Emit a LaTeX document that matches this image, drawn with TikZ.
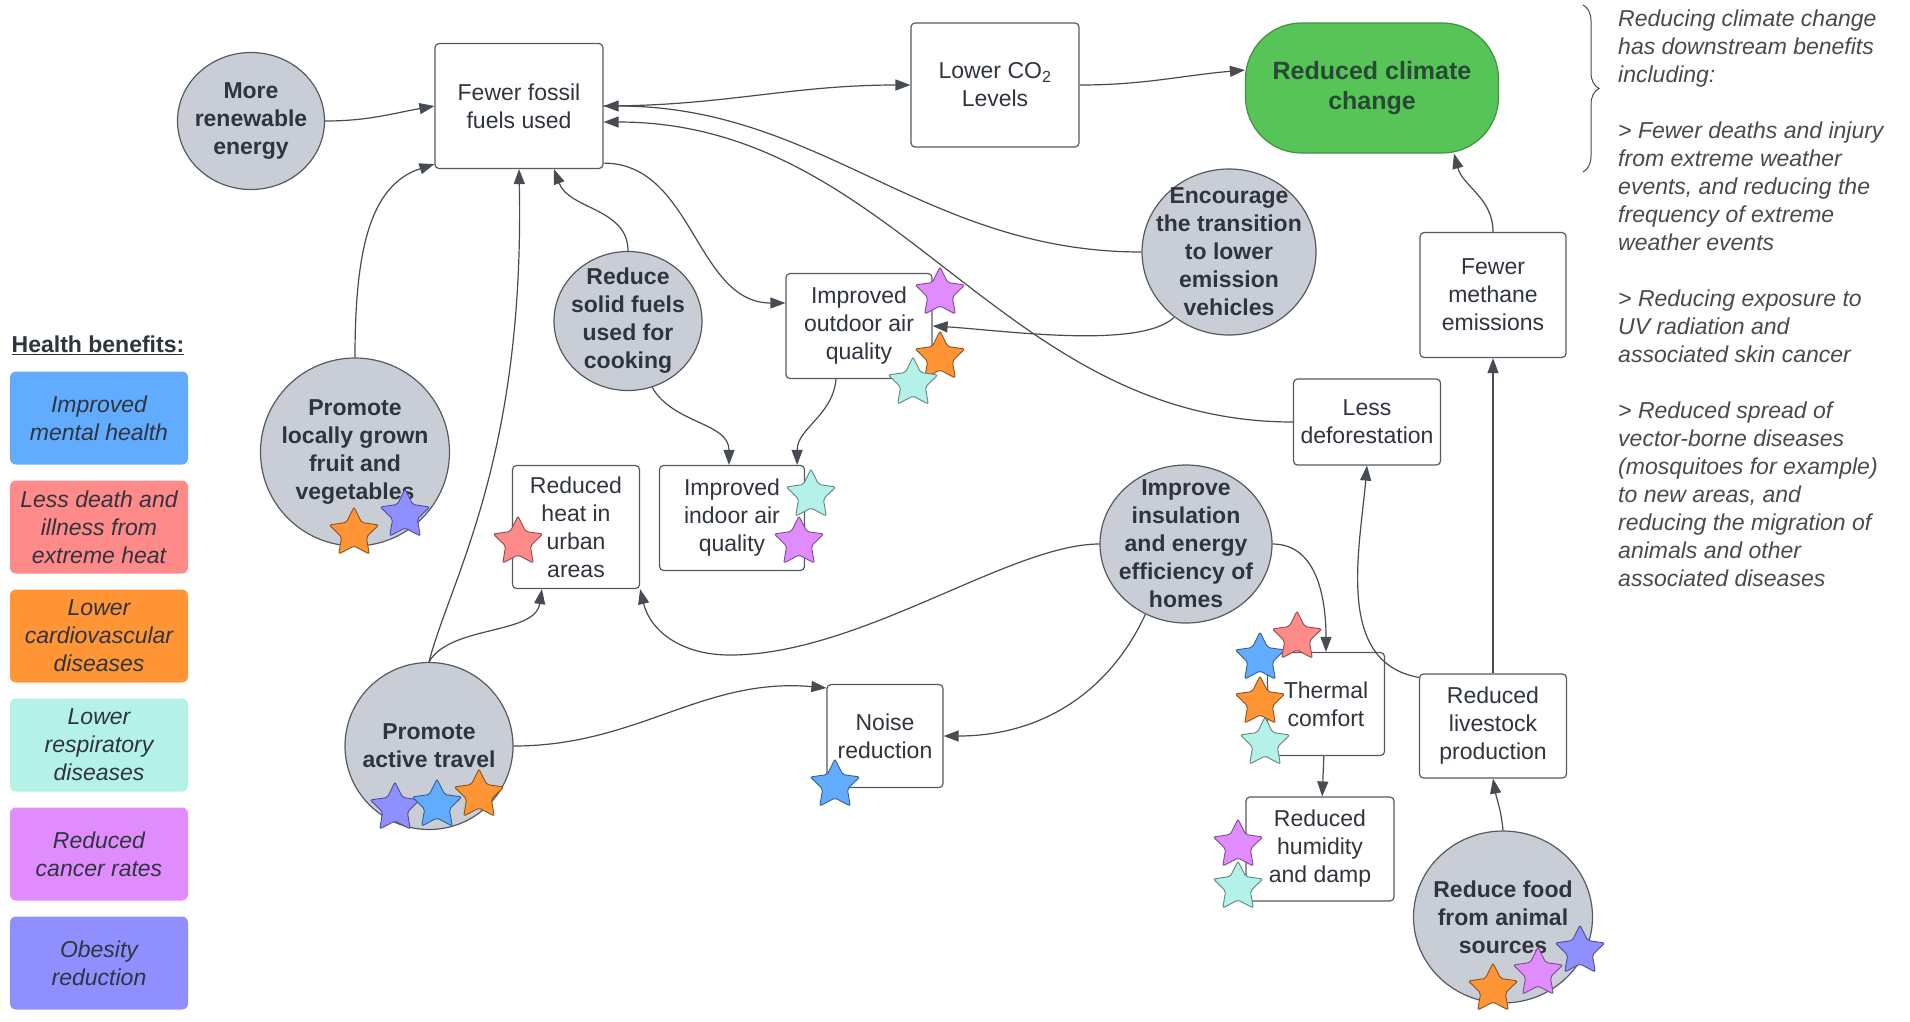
\documentclass[tikz,border=0pt]{standalone}
\usepackage{fontspec}
\setmainfont{Liberation Sans}
\usepackage{tikz}
\usetikzlibrary{shapes.geometric,arrows.meta,decorations.pathreplacing}

\definecolor{circfill}{HTML}{C9CED6}
\definecolor{edgecol}{HTML}{555A62}
\definecolor{linkcol}{HTML}{474B52}
\definecolor{textcol}{HTML}{2F343D}
\definecolor{climgreen}{HTML}{57C457}
\definecolor{mental}{HTML}{62ACFF}
\definecolor{heatred}{HTML}{FF8A8A}
\definecolor{cardio}{HTML}{FF9535}
\definecolor{resp}{HTML}{B3F1E9}
\definecolor{cancer}{HTML}{E08CFF}
\definecolor{obesity}{HTML}{8F8FFF}
\definecolor{notecol}{HTML}{4A4A4A}

\newcommand{\mainsize}{\fontsize{23}{28}\selectfont}

\tikzset{
  action node/.style={ellipse,draw=edgecol,line width=1.2pt,fill=circfill,inner sep=-30pt,
    align=center,text=textcol,font=\mainsize\bfseries},
  outcome node/.style={rectangle,rounded corners=4pt,draw=edgecol,line width=1.2pt,fill=white,
    inner sep=0pt,align=center,text=textcol,font=\mainsize},
  benefit node/.style={rectangle,rounded corners=6pt,fill=#1,minimum width=178pt,minimum height=93pt,
    inner sep=0pt,align=center,text=textcol,font=\mainsize\itshape},
  health star/.style={star,star points=5,star point ratio=2,minimum size=52pt,inner sep=0pt,
    fill=#1,draw=#1!55!black,line width=0.9pt,rounded corners=2pt},
  link/.style={->,color=linkcol,line width=1.2pt}
}

\begin{document}
\begin{tikzpicture}[x=1pt,y=1pt,>={Triangle[length=15pt,width=11pt]}]

\fill[white] (0,0) rectangle (1910,-1021);
\useasboundingbox (0,0) rectangle (1910,-1021);

\node[font=\mainsize\bfseries,text=textcol] (legend title) at (98,-345) {\underline{Health benefits:}};
\foreach \txt/\col [count=\i] in {{Improved\\mental health}/mental,{Less death and\\illness from\\extreme heat}/heatred,
    {Lower\\cardiovascular\\diseases}/cardio,{Lower\\respiratory\\diseases}/resp,
    {Reduced\\cancer rates}/cancer,{Obesity\\reduction}/obesity}
  \node[benefit node=\col] (benefit\i) at (99,{-418-109*(\i-1)}) {\txt};

\node[action node,minimum width=147pt,minimum height=137pt] (renew) at (251,-121) {More\\renewable\\energy};
\node[outcome node,minimum width=168pt,minimum height=125pt] (fossil) at (519,-106) {Fewer fossil\\fuels used};
\node[outcome node,minimum width=168pt,minimum height=124pt] (co2) at (995,-85) {Lower CO\textsubscript{2}\\Levels};
\node[outcome node,fill=climgreen,draw=climgreen!75!black,rounded corners=56pt,text=textcol!90!green,
  font=\fontsize{25}{30}\selectfont\bfseries,minimum width=253pt,minimum height=130pt] (climate) at (1372,-88) {Reduced climate\\change};
\node[action node,minimum width=174pt,minimum height=166pt] (encourage) at (1229,-252) {Encourage\\the transition\\to lower\\emission\\vehicles};
\node[action node,minimum width=148pt,minimum height=139pt] (solid) at (628,-321) {Reduce\\solid fuels\\used for\\cooking};
\node[outcome node,minimum width=146pt,minimum height=105pt] (outdoor) at (859,-326) {Improved\\outdoor air\\quality};
\node[action node,minimum width=189pt,minimum height=188pt] (local) at (355,-452) {Promote\\locally grown\\fruit and\\vegetables};
\node[outcome node,minimum width=127pt,minimum height=123pt] (heat) at (576,-527) {Reduced\\heat in\\urban\\areas};
\node[outcome node,minimum width=145pt,minimum height=105pt] (indoor) at (732,-518) {Improved\\indoor air\\quality};
\node[outcome node,minimum width=147pt,minimum height=86pt] (defor) at (1367,-422) {Less\\deforestation};
\node[outcome node,minimum width=146pt,minimum height=125pt] (methane) at (1493,-295) {Fewer\\methane\\emissions};
\node[action node,minimum width=172pt,minimum height=158pt] (insul) at (1186,-544) {Improve\\insulation\\and energy\\efficiency of\\homes};
\node[action node,minimum width=168pt,minimum height=167pt] (active) at (429,-746) {Promote\\active travel};
\node[outcome node,minimum width=116pt,minimum height=103pt] (noise) at (885,-736) {Noise\\reduction};
\node[outcome node,minimum width=117pt,minimum height=103pt] (thermal) at (1326,-704) {Thermal\\comfort};
\node[outcome node,minimum width=148pt,minimum height=104pt] (humid) at (1320,-849) {Reduced\\humidity\\and damp};
\node[outcome node,minimum width=147pt,minimum height=104pt] (livestock) at (1493,-726) {Reduced\\livestock\\production};
\node[action node,minimum width=179pt,minimum height=172pt] (food) at (1503,-917) {Reduce food\\from animal\\sources};

\path[link]
  (renew.east) edge[out=0,in=190] (fossil.west)
  (fossil.east) edge[out=0,in=180] (co2.west)
  (co2.east) edge[out=0,in=185] ([yshift=18pt]climate.west)
  (encourage.west) edge[out=180,in=0] (fossil.east)
  (defor.west) edge[out=180,in=0] ([yshift=-16pt]fossil.east)
  ([yshift=6pt]fossil.south east) edge[out=0,in=180] ([yshift=23pt]outdoor.west)
  (solid.north) edge[out=90,in=-70] ([xshift=35pt]fossil.south)
  (solid.-70) edge[out=-60,in=90] ([xshift=-3pt]indoor.north)
  ([xshift=-23pt]outdoor.south) edge[out=-95,in=90] ([xshift=-8pt]indoor.north east)
  (insul.-120) edge[out=-115,in=0] (noise.east)
  (insul.east) edge[out=0,in=90] (thermal.north)
  (thermal) edge (humid)
  (food.north) edge[out=95,in=-80] (livestock.south)
  (livestock) edge (methane)
  ([yshift=-4pt]livestock.north west) edge[out=170,in=-95] (defor.south)
  (methane.north) edge[out=90,in=-75] ([xshift=82pt]climate.south)
  (active.east) edge[out=0,in=175] ([yshift=-4pt]noise.north west);

\draw[link] (local.north) .. controls (355,-250) and (370,-185) .. ([yshift=5pt]fossil.south west);
\draw[link] (active.north) .. controls (450,-580) and (525,-460) .. (fossil.south);
\draw[link] (active.north) .. controls (450,-625) and (535,-635) .. ([xshift=30pt]heat.south west);
\draw[link] (insul.west) .. controls (1010,-544) and (860,-655) .. (730,-655)
  .. controls (680,-655) and (650,-630) .. (heat.south east);
\draw[link] (encourage.-130) .. controls (1140,-350) and (1000,-330) .. (outdoor.east);

\foreach \sx/\sy/\col [count=\i] in {940/293/cancer,940/357/cardio,913/383/resp,811/495/resp,799/542/cancer,
    354/533/cardio,405/515/obesity,518/542/heatred,395/808/obesity,437/805/mental,479/795/cardio,
    835/785/mental,1260/658/mental,1297/637/heatred,1260/702/cardio,1265/743/resp,
    1238/845/cancer,1238/887/resp,1493/989/cardio,1538/973/cancer,1580/951/obesity}
  \node[health star=\col] (star\i) at (\sx,-\sy) {};

\draw[decorate,decoration={brace,amplitude=16pt},color=notecol,line width=1pt] (1583,-5) -- (1583,-172);
\node[anchor=north west,align=left,inner sep=0pt,font=\mainsize\itshape,text=notecol] (notes) at (1618,-10)
  {Reducing climate change\\has downstream benefits\\including:\\[28pt]
   > Fewer deaths and injury\\from extreme weather\\events, and reducing the\\frequency of extreme\\weather events\\[28pt]
   > Reducing exposure to\\UV radiation and\\associated skin cancer\\[28pt]
   > Reduced spread of\\vector-borne diseases\\(mosquitoes for example)\\to new areas, and\\reducing the migration of\\animals and other\\associated diseases};

\end{tikzpicture}
\end{document}
